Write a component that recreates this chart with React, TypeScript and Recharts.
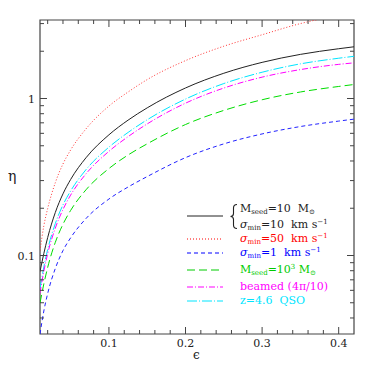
import React from "react";
import {
  LineChart,
  Line,
  XAxis,
  YAxis,
  ReferenceArea,
} from "recharts";

// efficiency epsilon (x) and eta for each model (log y)
const eps = [0.01, 0.015, 0.02, 0.03, 0.04, 0.05, 0.07, 0.1, 0.125, 0.15, 0.2, 0.25, 0.3, 0.35, 0.4, 0.42];
const seed10 = [0.079, 0.103, 0.13, 0.188, 0.247, 0.305, 0.419, 0.587, 0.728, 0.872, 1.167, 1.448, 1.699, 1.91, 2.075, 2.135];
const sigma50 = [0.1074, 0.1545, 0.199, 0.291, 0.383, 0.47, 0.64, 0.895, 1.1, 1.32, 1.743, 2.153, 2.547, 3.0, 3.38, 3.52];
const sigma1 = [0.0316, 0.0443, 0.0572, 0.0827, 0.1074, 0.1296, 0.1718, 0.2289, 0.273, 0.3183, 0.4201, 0.514, 0.5947, 0.6628, 0.718, 0.7387];
const seed1e3 = [0.0498, 0.0659, 0.0839, 0.1213, 0.1581, 0.1937, 0.2619, 0.3581, 0.4368, 0.5145, 0.6827, 0.8398, 0.982, 1.1002, 1.1931, 1.2276];
const beamed = [0.0577, 0.0793, 0.1027, 0.1495, 0.1964, 0.2425, 0.331, 0.4608, 0.5715, 0.6889, 0.9336, 1.1656, 1.3677, 1.528, 1.6496, 1.6867];
const qso = [0.0616, 0.0845, 0.1092, 0.1598, 0.21, 0.2577, 0.352, 0.4901, 0.6079, 0.7325, 0.992, 1.245, 1.47, 1.662, 1.805, 1.857];

const xTicks = [0.02, 0.04, 0.06, 0.08, 0.1, 0.12, 0.14, 0.16, 0.18, 0.2, 0.22, 0.24, 0.26, 0.28, 0.3, 0.32, 0.34, 0.36, 0.38, 0.4];
const xLabels = [0.1, 0.2, 0.3, 0.4];
const yTicks = [0.04, 0.05, 0.06, 0.07, 0.08, 0.09, 0.1, 0.2, 0.3, 0.4, 0.5, 0.6, 0.7, 0.8, 0.9, 1, 2, 3];
const yLabels = [0.1, 1];

const data = eps.map((e, i) => ({
  eps: e,
  seed10: seed10[i],
  sigma50: sigma50[i],
  sigma1: sigma1[i],
  seed1e3: seed1e3[i],
  beamed: beamed[i],
  qso: qso[i],
}));

const Y_MIN = Math.pow(10, -1.5);
const Y_MAX = Math.pow(10, 0.5);

// plot box in page pixels
const PL = 40;
const PR = 354;
const PT = 20;
const PB = 334;

const FONT = "'DejaVu Serif', serif";
const AXIS = "#444";

const isIn = (list: number[], v: number) => list.some((m) => Math.abs(m - v) < 1e-6);

function XTick(props: any) {
  const { x, payload } = props;
  const v = payload.value;
  const major = isIn(xLabels, v);
  const len = major ? 7 : 4;
  return (
    <g>
      <line x1={x} x2={x} y1={PB} y2={PB - len} stroke={AXIS} />
      <line x1={x} x2={x} y1={PT} y2={PT + len} stroke={AXIS} />
      {major && (
        <text x={x} y={347} textAnchor="middle" fontSize={11} fontFamily={FONT} fill="#222">
          {String(v)}
        </text>
      )}
    </g>
  );
}

function YTick(props: any) {
  const { y, payload } = props;
  const v = payload.value;
  const major = isIn(yLabels, v);
  const len = major ? 7 : 4;
  return (
    <g>
      <line x1={PL} x2={PL + len} y1={y} y2={y} stroke={AXIS} />
      <line x1={PR} x2={PR - len} y1={y} y2={y} stroke={AXIS} />
      {major && (
        <text x={35} y={y + 4} textAnchor="end" fontSize={11} fontFamily={FONT} fill="#222">
          {String(v)}
        </text>
      )}
    </g>
  );
}

const legendRows = [
  { y: 239, color: "#ff0000", dash: "1 2", text: <><i>σ</i><sub>min</sub>=50  km s<sup>−1</sup></> },
  { y: 253, color: "#0000ff", dash: "4 3", text: <><i>σ</i><sub>min</sub>=1  km s<sup>−1</sup></> },
  { y: 270, color: "#00cc00", dash: "8 4", text: <>M<sub>seed</sub>=10<sup>3</sup> M<sub>⊙</sub></> },
  { y: 287, color: "#ff00ff", dash: "6 2 1 2", text: <>beamed (4π/10)</> },
  { y: 301, color: "#00e5ff", dash: "10 2 1 2", text: <>z=4.6  QSO</> },
];

const subStyle = `
  .lg sub { font-size: 7px; vertical-align: -2px; line-height: 0; }
  .lg sup { font-size: 7px; vertical-align: 4px; line-height: 0; }
`;

export default function App() {
  return (
    <div style={{ position: "relative", margin: -8, width: 374, height: 374, background: "#fff" }}>
      <style>{subStyle}</style>
      <LineChart
        width={374}
        height={374}
        data={data}
        margin={{ top: PT, right: 374 - PR, bottom: 0, left: 0 }}
      >
        <XAxis
          dataKey="eps"
          type="number"
          domain={[0.01, 0.42]}
          ticks={xTicks}
          interval={0}
          tick={XTick}
          tickLine={false}
          axisLine={false}
          height={374 - PB}
          allowDataOverflow
        />
        <YAxis
          type="number"
          scale="log"
          domain={[Y_MIN, Y_MAX]}
          ticks={yTicks}
          interval={0}
          tick={YTick}
          tickLine={false}
          axisLine={false}
          width={PL}
          allowDataOverflow
        />
        <ReferenceArea x1={0.01} x2={0.42} y1={Y_MIN} y2={Y_MAX} fill="none" stroke={AXIS} strokeWidth={1.2} />
        <Line dataKey="sigma50" type="monotone" stroke="#ff3333" strokeDasharray="1 2" strokeWidth={1} dot={false} isAnimationActive={false} />
        <Line dataKey="seed10" type="monotone" stroke="#222" strokeWidth={1} dot={false} isAnimationActive={false} />
        <Line dataKey="qso" type="monotone" stroke="#00e5ff" strokeDasharray="10 2 1 2" strokeWidth={1} dot={false} isAnimationActive={false} />
        <Line dataKey="beamed" type="monotone" stroke="#ff00ff" strokeDasharray="6 2 1 2" strokeWidth={1} dot={false} isAnimationActive={false} />
        <Line dataKey="seed1e3" type="monotone" stroke="#00dd00" strokeDasharray="8 4" strokeWidth={1} dot={false} isAnimationActive={false} />
        <Line dataKey="sigma1" type="monotone" stroke="#2222ff" strokeDasharray="4 3" strokeWidth={1} dot={false} isAnimationActive={false} />
      </LineChart>

      <div className="lg" style={{ position: "absolute", left: 0, top: 0, fontFamily: FONT, fontSize: 11, whiteSpace: "pre" }}>
        <svg width={374} height={374} style={{ position: "absolute", left: 0, top: 0 }}>
          <text x={8} y={181} fontSize={14} fontFamily={FONT} fill="#222">η</text>
          <text x={193} y={359} fontSize={12} fontFamily={FONT} fill="#222">ϵ</text>
          <line x1={187} x2={223} y1={216} y2={216} stroke="#222" strokeWidth={1} />
          {/* brace grouping the first two legend lines */}
          <path
            d="M237 204.5 Q233.5 204.5 233.5 208 L233.5 213.5 Q233.5 216.5 230.5 216.5 Q233.5 216.5 233.5 219.5 L233.5 225 Q233.5 228.5 237 228.5"
            fill="none"
            stroke="#222"
            strokeWidth={1.1}
          />
          {legendRows.map((r) => (
            <line key={r.y} x1={187} x2={223} y1={r.y} y2={r.y} stroke={r.color} strokeDasharray={r.dash} strokeWidth={1} />
          ))}
        </svg>
        <div style={{ position: "absolute", left: 240, top: 203, lineHeight: "11px", color: "#222" }}>
          M<sub>seed</sub>=10  M<sub>⊙</sub>
        </div>
        <div style={{ position: "absolute", left: 240, top: 219, lineHeight: "11px", color: "#222" }}>
          <i>σ</i><sub>min</sub>=10  km s<sup>−1</sup>
        </div>
        {legendRows.map((r) => (
          <div key={r.y} style={{ position: "absolute", left: 240, top: r.y - 6, lineHeight: "11px", color: r.color }}>
            {r.text}
          </div>
        ))}
      </div>
    </div>
  );
}
